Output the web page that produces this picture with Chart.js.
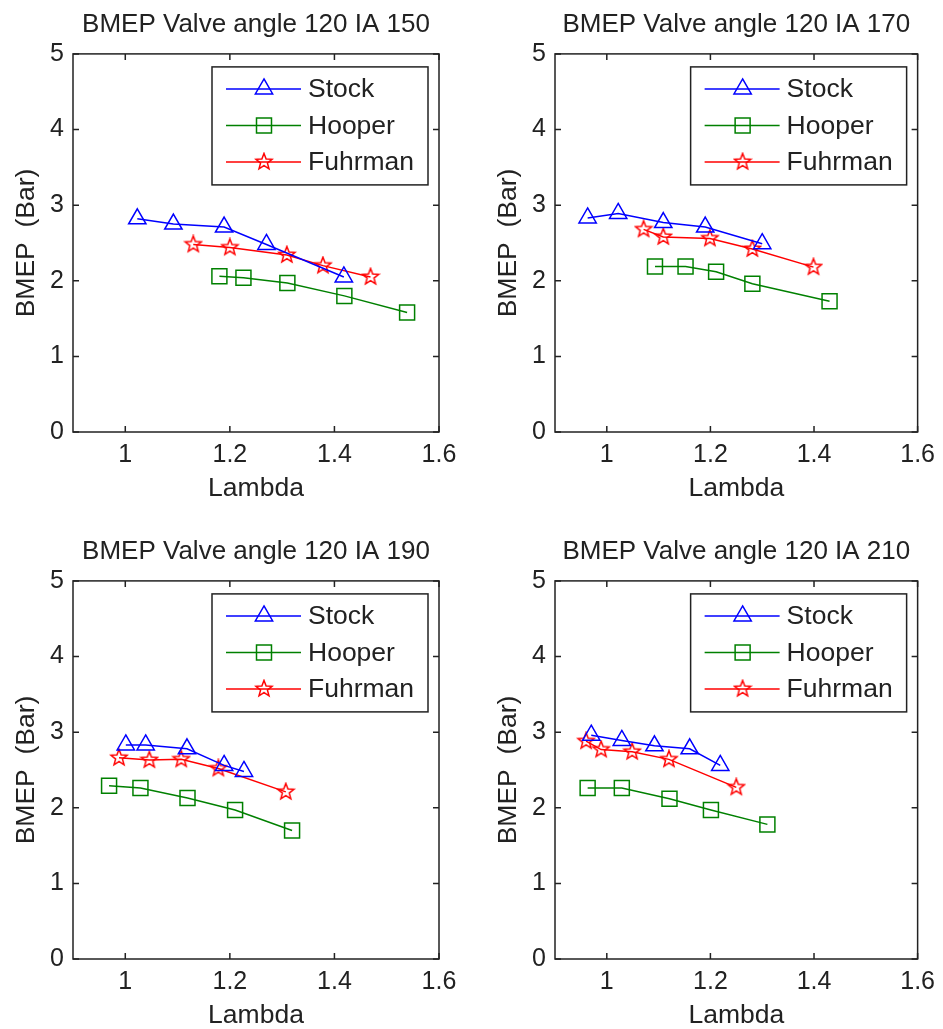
<!DOCTYPE html>
<html>
<head>
<meta charset="utf-8">
<title>BMEP vs Lambda</title>
<script src="https://cdn.jsdelivr.net/npm/chart.js@4.4.0/dist/chart.umd.min.js"></script>
<style>
  html, body { margin: 0; padding: 0; background: #fff; overflow: hidden; }
  canvas { position: absolute; }
</style>
</head>
<body>
<canvas id="c150" width="470" height="512" style="left:0;top:0"></canvas>
<canvas id="c170" width="461" height="512" style="left:482px;top:0"></canvas>
<canvas id="c190" width="470" height="512" style="left:0;top:527px"></canvas>
<canvas id="c210" width="461" height="512" style="left:482px;top:527px"></canvas>
<script>
// ---- axes ----
const xTicks = [1, 1.2, 1.4, 1.6];
const yTicks = [0, 1, 2, 3, 4, 5];
const seriesNames = ['Stock', 'Hooper', 'Fuhrman'];
const seriesColors = ['#0000ff', '#008000', '#ff0000'];

// ---- IA 150 ----
const stock150X = [1.023, 1.092, 1.189, 1.270, 1.418];
const stock150Y = [2.82, 2.75, 2.71, 2.48, 2.05];
const hooper150X = [1.180, 1.226, 1.310, 1.419, 1.539];
const hooper150Y = [2.06, 2.04, 1.97, 1.80, 1.58];
const fuhrman150X = [1.130, 1.200, 1.309, 1.378, 1.469];
const fuhrman150Y = [2.48, 2.44, 2.34, 2.20, 2.05];

// ---- IA 170 ----
const stock170X = [0.963, 1.022, 1.109, 1.190, 1.300];
const stock170Y = [2.83, 2.89, 2.77, 2.71, 2.49];
const hooper170X = [1.093, 1.152, 1.211, 1.281, 1.430];
const hooper170Y = [2.19, 2.19, 2.12, 1.96, 1.73];
const fuhrman170X = [1.071, 1.109, 1.199, 1.281, 1.399];
const fuhrman170Y = [2.68, 2.58, 2.56, 2.42, 2.18];

// ---- IA 190 ----
const stock190X = [1.001, 1.039, 1.118, 1.189, 1.227];
const stock190Y = [2.83, 2.83, 2.78, 2.56, 2.48];
const hooper190X = [0.969, 1.029, 1.119, 1.210, 1.319];
const hooper190Y = [2.29, 2.26, 2.13, 1.97, 1.70];
const fuhrman190X = [0.988, 1.046, 1.107, 1.178, 1.307];
const fuhrman190Y = [2.66, 2.63, 2.64, 2.52, 2.21];

// ---- IA 210 ----
const stock210X = [0.970, 1.029, 1.092, 1.160, 1.219];
const stock210Y = [2.96, 2.89, 2.82, 2.78, 2.56];
const hooper210X = [0.963, 1.029, 1.121, 1.201, 1.310];
const hooper210Y = [2.26, 2.26, 2.12, 1.97, 1.78];
const fuhrman210X = [0.960, 0.989, 1.049, 1.120, 1.250];
const fuhrman210Y = [2.88, 2.77, 2.74, 2.64, 2.27];

const FONT = "'Liberation Sans', Arial, sans-serif";
const INK = '#222';

Chart.defaults.font.family = FONT;
Chart.defaults.color = INK;
Chart.defaults.animation = false;

function pts(xs, ys) {
  return xs.map((x, i) => ({ x: x, y: ys[i] }));
}

// matlab style pentagram, drawn once and used as pointStyle
function makeStar(color) {
  const c = document.createElement('canvas');
  c.width = 20; c.height = 20;
  const g = c.getContext('2d');
  g.strokeStyle = color;
  g.lineWidth = 1.5;
  g.beginPath();
  for (let i = 0; i < 10; i++) {
    const r = i % 2 === 0 ? 8.5 : 3.6;
    const a = -Math.PI / 2 + i * Math.PI / 5;
    const px = 10 + r * Math.cos(a), py = 10 + r * Math.sin(a);
    if (i === 0) g.moveTo(px, py); else g.lineTo(px, py);
  }
  g.closePath();
  g.stroke();
  return c;
}

const markers = [
  { pointStyle: 'triangle', radius: 10 },
  { pointStyle: 'rect', radius: 10.6 },
  { pointStyle: makeStar(seriesColors[2]), radius: 8 }
];

function makeDataset(i, xs, ys) {
  return {
    label: seriesNames[i],
    data: pts(xs, ys),
    showLine: true,
    borderColor: seriesColors[i],
    backgroundColor: 'rgba(0,0,0,0)',
    borderWidth: 1.5,
    pointStyle: markers[i].pointStyle,
    pointRadius: markers[i].radius,
    pointHoverRadius: markers[i].radius,
    pointBorderWidth: 1.5,
    pointBorderColor: seriesColors[i],
    pointBackgroundColor: 'rgba(0,0,0,0)'
  };
}

// box around the plot with inward ticks on all four sides
const boxTicks = {
  id: 'boxTicks',
  afterDatasetsDraw(chart) {
    const { ctx, chartArea: a, scales } = chart;
    const tl = 6;
    ctx.save();
    ctx.strokeStyle = INK;
    ctx.lineWidth = 1.5;
    ctx.strokeRect(a.left, a.top, a.right - a.left, a.bottom - a.top);
    ctx.beginPath();
    scales.x.ticks.forEach(t => {
      const px = scales.x.getPixelForValue(t.value);
      ctx.moveTo(px, a.bottom); ctx.lineTo(px, a.bottom - tl);
      ctx.moveTo(px, a.top); ctx.lineTo(px, a.top + tl);
    });
    scales.y.ticks.forEach(t => {
      const py = scales.y.getPixelForValue(t.value);
      ctx.moveTo(a.left, py); ctx.lineTo(a.left + tl, py);
      ctx.moveTo(a.right, py); ctx.lineTo(a.right - tl, py);
    });
    ctx.stroke();
    ctx.restore();
  }
};

// legend box inside the top right corner
const insideLegend = {
  id: 'insideLegend',
  afterDraw(chart) {
    const { ctx, chartArea: a } = chart;
    const w = 216, h = 118;
    const bx = a.right - 11 - w, by = a.top + 13;
    ctx.save();
    ctx.fillStyle = '#fff';
    ctx.fillRect(bx, by, w, h);
    ctx.strokeStyle = INK;
    ctx.lineWidth = 1.5;
    ctx.strokeRect(bx, by, w, h);
    chart.data.datasets.forEach((ds, i) => {
      const ry = by + 22 + i * 36.5;
      ctx.strokeStyle = ds.borderColor;
      ctx.lineWidth = ds.borderWidth;
      ctx.beginPath();
      ctx.moveTo(bx + 14, ry); ctx.lineTo(bx + 89, ry);
      ctx.stroke();
      ctx.fillStyle = 'rgba(0,0,0,0)';
      Chart.helpers.drawPoint(ctx, {
        pointStyle: ds.pointStyle, radius: ds.pointRadius,
        borderWidth: ds.pointBorderWidth, rotation: 0
      }, bx + 52, ry);
      ctx.fillStyle = INK;
      ctx.font = '26.5px ' + FONT;
      ctx.textBaseline = 'middle';
      ctx.textAlign = 'left';
      ctx.fillText(ds.label, bx + 96, ry + 1);
    });
    ctx.restore();
  }
};

function drawPanel(id, title, padRight, stock, hooper, fuhrman) {
  new Chart(document.getElementById(id), {
    type: 'scatter',
    data: {
      datasets: [
        makeDataset(0, stock[0], stock[1]),
        makeDataset(1, hooper[0], hooper[1]),
        makeDataset(2, fuhrman[0], fuhrman[1])
      ]
    },
    options: {
      responsive: false,
      layout: { padding: { left: 0, right: padRight, top: 0, bottom: 0 } },
      plugins: {
        legend: { display: false },
        tooltip: { enabled: false },
        title: {
          display: true, text: title, fullSize: false,
          font: { size: 26, weight: 'normal', lineHeight: 1.15 }, color: INK,
          padding: { top: 10, bottom: 14 }
        }
      },
      scales: {
        x: {
          type: 'linear', min: 0.9, max: 1.6,
          afterBuildTicks: s => { s.ticks = xTicks.map(v => ({ value: v })); },
          afterFit: s => { s.height = 80; },
          grid: { display: false, drawTicks: false },
          border: { display: false },
          ticks: { font: { size: 25 }, padding: 8, color: INK, callback: v => String(+v.toFixed(1)) },
          title: { display: true, text: 'Lambda', font: { size: 26.5 }, color: INK, padding: { top: 0, bottom: 7 } }
        },
        y: {
          type: 'linear', min: 0, max: 5,
          afterBuildTicks: s => { s.ticks = yTicks.map(v => ({ value: v })); },
          afterFit: s => { s.width = 73; },
          grid: { display: false, drawTicks: false },
          border: { display: false },
          ticks: { font: { size: 25 }, padding: 9, color: INK },
          title: { display: true, text: 'BMEP  (Bar)', font: { size: 26.5 }, color: INK, padding: { top: 11, bottom: 0 } }
        }
      }
    },
    plugins: [boxTicks, insideLegend]
  });
}

drawPanel('c150', 'BMEP Valve angle 120 IA 150', 31,
  [stock150X, stock150Y], [hooper150X, hooper150Y], [fuhrman150X, fuhrman150Y]);
drawPanel('c170', 'BMEP Valve angle 120 IA 170', 21,
  [stock170X, stock170Y], [hooper170X, hooper170Y], [fuhrman170X, fuhrman170Y]);
drawPanel('c190', 'BMEP Valve angle 120 IA 190', 31,
  [stock190X, stock190Y], [hooper190X, hooper190Y], [fuhrman190X, fuhrman190Y]);
drawPanel('c210', 'BMEP Valve angle 120 IA 210', 21,
  [stock210X, stock210Y], [hooper210X, hooper210Y], [fuhrman210X, fuhrman210Y]);
</script>
</body>
</html>
